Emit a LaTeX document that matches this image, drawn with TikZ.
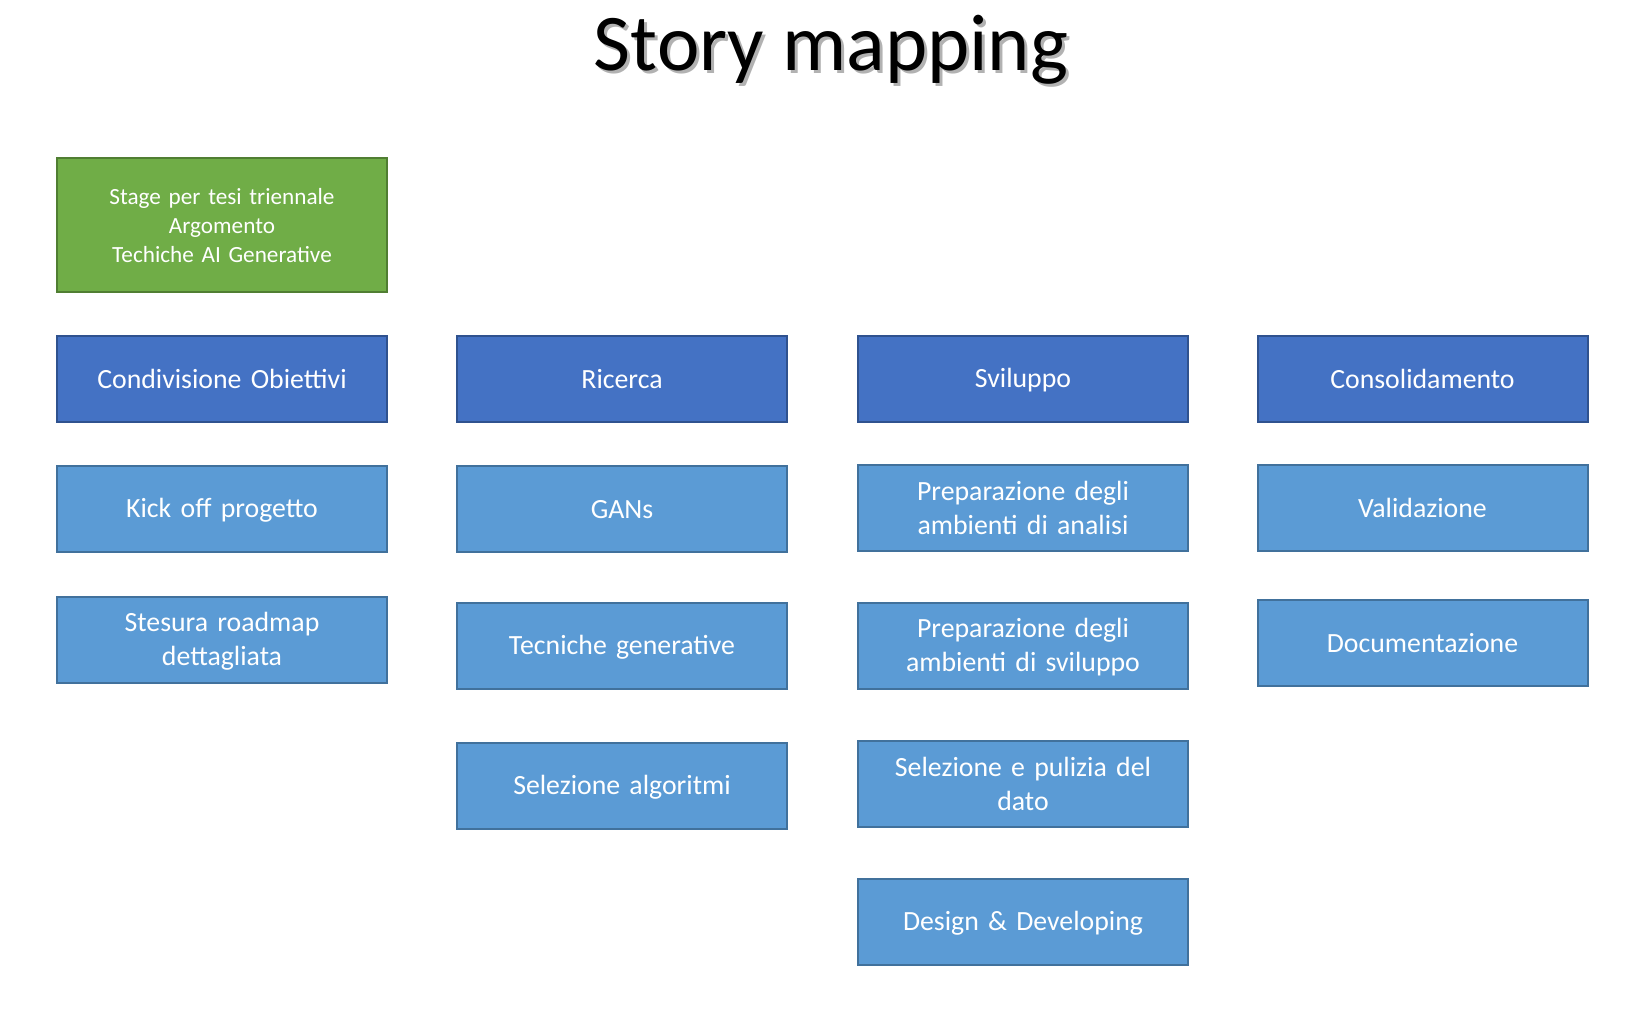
\documentclass[tikz,border=0pt]{standalone}
\usepackage{fontspec}
\setmainfont{Carlito}
\definecolor{darkfill}{HTML}{4472C4}
\definecolor{darkline}{HTML}{2F528F}
\definecolor{lightfill}{HTML}{5B9BD5}
\definecolor{lightline}{HTML}{41719C}
\definecolor{greenfill}{HTML}{70AD47}
\definecolor{greenline}{HTML}{507E32}
\newcommand{\boxstrut}{\rule[-2pt]{0pt}{13pt}}
\tikzset{
  box/.style={rectangle, minimum width=165pt, minimum height=43pt, inner sep=0pt,
    line width=1pt, text=white, align=center, text width=150pt,
    font=\fontsize{13.9}{17}\selectfont,
    execute at begin node=\boxstrut, execute at end node=\boxstrut},
  epic/.style={box, fill=darkfill, draw=darkline},
  story/.style={box, fill=lightfill, draw=lightline},
  goal/.style={box, fill=greenfill, draw=greenline, minimum height=66.75pt,
    font=\fontsize{11.6}{14.5}\selectfont},
}
\begin{document}
\begin{tikzpicture}[x=0.5pt,y=-0.5pt]
\useasboundingbox (0,0) rectangle (1650,1018);
\fill[white] (0,0) rectangle (1650,1018);
\node[anchor=base, text=black!30, font=\fontsize{40.2}{48}\selectfont] (titleshadow) at (834,73.5) {Story mapping};
\node[anchor=base, text=black, font=\fontsize{40.2}{48}\selectfont] (title) at (831,70.5) {Story mapping};
\node[goal] (goal) at (222,224.75) {Stage per tesi triennale\\Argomento\\Techiche AI Generative};
% column 1
\node[epic] (e1) at (222,379) {Condivisione Obiettivi};
\node[story] (s11) at (222,509) {Kick off progetto};
\node[story] (s12) at (222,640) {Stesura roadmap\\dettagliata};
% column 2
\node[epic] (e2) at (622,379) {Ricerca};
\node[story] (s21) at (622,509) {GANs};
\node[story] (s22) at (622,646) {Tecniche generative};
\node[story] (s23) at (622,785.5) {Selezione algoritmi};
% column 3
\node[epic] (e3) at (1023,379) {Sviluppo};
\node[story] (s31) at (1023,508) {Preparazione degli\\ambienti di analisi};
\node[story] (s32) at (1023,646) {Preparazione degli\\ambienti di sviluppo};
\node[story] (s33) at (1023,784) {Selezione e pulizia del\\dato};
\node[story] (s34) at (1023,922) {Design \& Developing};
% column 4
\node[epic] (e4) at (1422.5,379) {Consolidamento};
\node[story] (s41) at (1422.5,508) {Validazione};
\node[story] (s42) at (1422.5,643) {Documentazione};
\end{tikzpicture}
\end{document}
